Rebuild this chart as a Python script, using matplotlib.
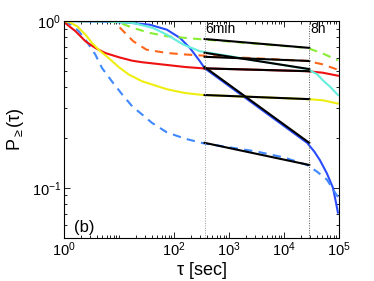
import numpy as np
import matplotlib
matplotlib.use("Agg")
import matplotlib.pyplot as plt
from matplotlib.ticker import LogLocator, NullFormatter, FixedLocator, FixedFormatter

plt.rcParams['font.family'] = ['Liberation Sans', 'DejaVu Sans']
plt.rcParams['mathtext.fontset'] = 'custom'
plt.rcParams['mathtext.rm'] = 'Liberation Sans'
plt.rcParams['mathtext.it'] = 'Liberation Sans'

# log10(tau) and P values
blue_x = [0, 0.84, 1.2, 1.56, 1.87, 2.11, 2.29, 2.47, 2.56, 4.42, 4.55, 4.65, 4.78, 4.89, 4.95, 4.98]
blue_y = [1.0, 0.99, 0.975, 0.95, 0.887, 0.791, 0.689, 0.574, 0.52, 0.186, 0.165, 0.147, 0.122, 0.10, 0.08, 0.071]

bdash_x = [0, 0.13, 0.27, 0.39, 0.57, 0.69, 0.87, 1.06, 1.24, 1.42, 1.6, 1.87, 2.2, 2.53, 3.0, 3.5, 4.0, 4.42, 4.6, 4.78, 4.98]
bdash_y = [1.0, 0.95, 0.868, 0.773, 0.629, 0.523, 0.435, 0.362, 0.308, 0.275, 0.245, 0.215, 0.197, 0.185, 0.175, 0.165, 0.152, 0.137, 0.125, 0.112, 0.088]

red_x = [0, 0.02, 0.21, 0.39, 0.57, 0.75, 1.0, 1.24, 1.42, 1.87, 2.2, 2.53, 3.5, 4.42, 4.7, 4.98]
red_y = [1.0, 0.973, 0.868, 0.756, 0.689, 0.643, 0.606, 0.578, 0.566, 0.545, 0.53, 0.52, 0.51, 0.50, 0.49, 0.47]

yel_x = [0, 0.1, 0.24, 0.39, 0.51, 0.63, 0.81, 1.0, 1.18, 1.42, 1.87, 2.2, 2.53, 3.5, 4.42, 4.7, 4.98]
yel_y = [1.0, 0.985, 0.929, 0.828, 0.738, 0.673, 0.60, 0.528, 0.477, 0.435, 0.39, 0.37, 0.36, 0.35, 0.34, 0.335, 0.32]

ora_x = [0, 0.9, 1.08, 1.26, 1.5, 1.87, 2.2, 2.53, 4.42, 4.7, 4.98]
ora_y = [1.0, 1.0, 0.868, 0.756, 0.673, 0.643, 0.63, 0.62, 0.576, 0.55, 0.51]

grn_x = [0, 0.84, 1.02, 1.26, 1.56, 1.87, 2.53, 4.42, 4.7, 4.98]
grn_y = [1.0, 0.995, 0.973, 0.908, 0.848, 0.81, 0.775, 0.69, 0.64, 0.58]

cyn_x = [0, 0.8, 1.26, 1.62, 1.87, 2.17, 2.47, 4.42, 4.6, 4.71, 4.85, 4.98]
cyn_y = [1.0, 0.995, 0.973, 0.908, 0.828, 0.722, 0.659, 0.515, 0.48, 0.44, 0.40, 0.36]

# black fit segments between 6 min and 8 h (P at start, P at end)
fit_start = [0.53, 0.186, 0.52, 0.36, 0.61, 0.78, 0.645]
fit_end = [0.186, 0.137, 0.50, 0.34, 0.576, 0.69, 0.515]
t_6min = 360
t_8h = 28800

fig = plt.figure(figsize=(3.74, 2.81), dpi=100)
ax = fig.add_axes([64/374, 1-238/281, (339-64)/374, (238-21)/281])

def tx(lx):
    return 10 ** np.array(lx)

ax.plot(tx(blue_x), blue_y, color='#2a4cff', lw=1.5)
ax.plot(tx(bdash_x), bdash_y, color='#3f88ff', lw=1.5, ls=(0, (4, 3)))
ax.plot(tx(red_x), red_y, color='#ee1111', lw=1.5)
ax.plot(tx(yel_x), yel_y, color='#eeee11', lw=1.5)
ax.plot(tx(ora_x), ora_y, color='#ff6619', lw=1.5, ls=(0, (4, 3)))
ax.plot(tx(grn_x), grn_y, color='#88ee33', lw=1.5, ls=(0, (4, 3)))
ax.plot(tx(cyn_x), cyn_y, color='#66eedd', lw=1.5)

for s, e in zip(fit_start, fit_end):
    ax.plot([t_6min, t_8h], [s, e], color='black', lw=1.5)

ax.axvline(t_6min, color='#999999', lw=0.7, ls=(0, (1, 1.5)))
ax.axvline(t_8h, color='#555555', lw=0.7, ls=(0, (1, 1.5)))
ax.text(t_6min * 1.03, 0.85, '6min', fontsize=10, va='baseline', ha='left')
ax.text(t_8h * 1.03, 0.85, '8h', fontsize=10, va='baseline', ha='left')
ax.text(1.55, 0.054, '(b)', fontsize=12, ha='left', va='baseline')

ax.set_xscale('log')
ax.set_yscale('log')
ax.set_xlim(1, 1e5)
ax.set_ylim(0.05, 1)
ax.xaxis.set_major_locator(FixedLocator([1, 100, 1e3, 1e4, 1e5]))
ax.xaxis.set_major_formatter(FixedFormatter(['$10^0$', '$10^2$', '$10^3$', '$10^4$', '$10^5$']))
ax.xaxis.set_minor_locator(LogLocator(base=10, subs=np.arange(1, 10), numticks=20))
ax.xaxis.set_minor_formatter(NullFormatter())
ax.yaxis.set_major_locator(FixedLocator([0.1, 1]))
ax.yaxis.set_major_formatter(FixedFormatter(['$10^{-1}$', '$10^0$']))
ax.yaxis.set_minor_locator(LogLocator(base=10, subs=np.arange(2, 10), numticks=20))
ax.yaxis.set_minor_formatter(NullFormatter())
ax.tick_params(which='both', direction='in', top=True, right=True, labelsize=10.5, width=0.6)
ax.tick_params(which='major', length=4, pad=2)
ax.tick_params(which='minor', length=2)
for sp in ax.spines.values():
    sp.set_linewidth(0.8)

ax.set_xlabel(r'$\tau$ [sec]', fontsize=13)
ax.xaxis.set_label_coords(0.5, -0.1)
ax.set_ylabel(r'P$_{\geq}(\tau)$', fontsize=13, labelpad=4)

fig.savefig('out.png', dpi=100)
